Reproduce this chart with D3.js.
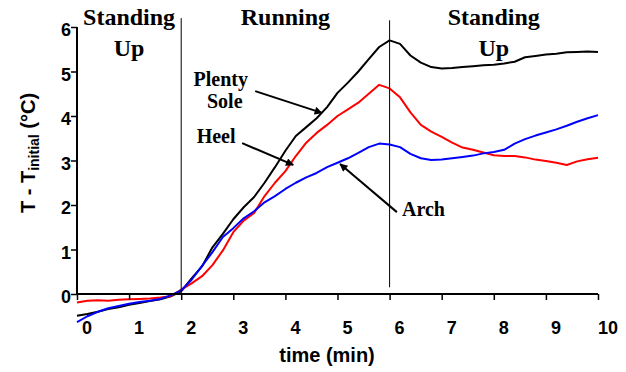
<!DOCTYPE html>
<html>
<head>
<meta charset="utf-8">
<script src="https://cdn.jsdelivr.net/npm/d3@7"></script>
<style>
body { margin: 0; background: #fff; }
.ticklabel { font-family: "Liberation Sans", Arial, sans-serif; font-weight: bold; font-size: 18px; }
.axistitle { font-family: "Liberation Sans", Arial, sans-serif; font-weight: bold; font-size: 20px; }
.phase { font-family: "Liberation Serif", "Times New Roman", serif; font-weight: bold; font-size: 24px; }
.note { font-family: "Liberation Serif", "Times New Roman", serif; font-weight: bold; font-size: 20px; }
</style>
</head>
<body>
<div id="vis"></div>
<script>
var w = 626;
var h = 372;

// time (min)
var time = [0, 0.2, 0.4, 0.6, 0.8, 1, 1.2, 1.4, 1.6, 1.8,
	2, 2.2, 2.4, 2.6, 2.8, 3, 3.2, 3.4, 3.6, 3.8,
	4, 4.2, 4.4, 4.6, 4.8, 5, 5.2, 5.4, 5.6, 5.8,
	6, 6.2, 6.4, 6.6, 6.8, 7, 7.2, 7.4, 7.6, 7.8,
	8, 8.2, 8.4, 8.6, 8.8, 9, 9.2, 9.4, 9.6, 9.8, 10];

// T - Tinitial per sensor
var plentySole = [-0.49, -0.45, -0.40, -0.34, -0.30, -0.24, -0.20, -0.16, -0.12, -0.05,
	0.06, 0.35, 0.62, 1.05, 1.35, 1.68, 1.95, 2.18, 2.50, 2.85,
	3.22, 3.55, 3.75, 3.95, 4.20, 4.52, 4.75, 5.00, 5.28, 5.55,
	5.70, 5.62, 5.36, 5.20, 5.10, 5.07, 5.08, 5.10, 5.12, 5.14,
	5.15, 5.18, 5.22, 5.32, 5.35, 5.38, 5.40, 5.43, 5.44, 5.45, 5.44];
var heel = [-0.19, -0.15, -0.14, -0.15, -0.13, -0.12, -0.11, -0.10, -0.08, -0.05,
	0.10, 0.24, 0.40, 0.65, 0.98, 1.39, 1.65, 1.82, 2.20, 2.50,
	2.76, 3.10, 3.40, 3.62, 3.80, 4.00, 4.15, 4.30, 4.50, 4.70,
	4.62, 4.42, 4.08, 3.80, 3.65, 3.53, 3.40, 3.29, 3.24, 3.18,
	3.12, 3.10, 3.10, 3.07, 3.02, 2.99, 2.95, 2.90, 2.98, 3.03, 3.06];
var arch = [-0.63, -0.50, -0.40, -0.32, -0.27, -0.22, -0.18, -0.15, -0.11, -0.03,
	0.08, 0.32, 0.63, 0.94, 1.28, 1.48, 1.70, 1.86, 2.06, 2.20,
	2.36, 2.50, 2.62, 2.72, 2.85, 2.95, 3.05, 3.17, 3.30, 3.38,
	3.36, 3.30, 3.15, 3.05, 3.01, 3.02, 3.05, 3.08, 3.11, 3.16,
	3.19, 3.24, 3.38, 3.48, 3.56, 3.63, 3.70, 3.78, 3.87, 3.95, 4.02];

var xticks = [0, 1, 2, 3, 4, 5, 6, 7, 8, 9, 10];
var yticks = [0, 1, 2, 3, 4, 5, 6];

// fases: start, eind, tekst
var phaseStart = [0, 2, 6];
var phaseEnd = [2, 6, 10];
var phaseLines = [["Standing", "Up"], ["Running"], ["Standing", "Up"]];

// scheidingslijnen
var dividerT = [2, 6];
var dividerTop = [6.2, 6.15];
var dividerBottom = [0, 0.15];

var svg = d3.select("#vis")
	.append("svg")
	.attr("width", w)
	.attr("height", h);

var x = d3.scaleLinear().domain([0, 10]).range([77, 598]);
var y = d3.scaleLinear().domain([0, 6]).range([294, 27]);

var series = [
	{name: "Plenty Sole", values: plentySole, color: "#000000"},
	{name: "Heel", values: heel, color: "#ff0000"},
	{name: "Arch", values: arch, color: "#0000ff"}
];

var line = d3.line()
	.x(function(d, i) { return x(time[i]); })
	.y(function(d) { return y(d); });

//curves
svg.selectAll(".curve")
	.data(series)
	.enter()
	.append("path")
	.attr("class", "curve")
	.attr("d", function(d) { return line(d.values); })
	.attr("fill", "none")
	.attr("stroke", function(d) { return d.color; })
	.attr("stroke-width", 2)
	.attr("stroke-linejoin", "round");

//verticale lijnen
dividerT.forEach(function(t, i) {
	svg.append("line")
		.attr("x1", x(t))
		.attr("x2", x(t))
		.attr("y1", y(dividerTop[i]))
		.attr("y2", y(dividerBottom[i]))
		.attr("stroke", "black")
		.attr("stroke-width", 1);
});

//x-as
var xAxis = svg.append("g")
	.attr("transform", "translate(0," + y(0) + ")")
	.call(d3.axisBottom(x).tickValues(xticks).tickSize(6).tickFormat(""));
xAxis.select(".domain").attr("stroke-width", 2).attr("d", "M" + x(0) + ",0H" + x(10));
xAxis.selectAll(".tick line").attr("stroke-width", 1.5);

svg.selectAll(".xlabel")
	.data(xticks)
	.enter()
	.append("text")
	.attr("class", "ticklabel")
	.attr("x", function(d) { return x(d) + 10; })
	.attr("y", 334)
	.attr("text-anchor", "middle")
	.text(function(d) { return d; });

//y-as
var yAxis = svg.append("g")
	.attr("transform", "translate(" + x(0) + ",0)")
	.call(d3.axisLeft(y).tickValues(yticks).tickSize(6).tickFormat(""));
yAxis.select(".domain").attr("stroke-width", 2).attr("d", "M0," + y(0) + "V" + y(6));
yAxis.selectAll(".tick line").attr("stroke-width", 1.5);

svg.selectAll(".ylabel")
	.data(yticks)
	.enter()
	.append("text")
	.attr("class", "ticklabel")
	.attr("x", x(0) - 6)
	.attr("y", function(d) { return y(d) + 9; })
	.attr("text-anchor", "end")
	.text(function(d) { return d; });

//as titels
svg.append("text")
	.attr("class", "axistitle")
	.attr("x", 327)
	.attr("y", 362)
	.attr("text-anchor", "middle")
	.text("time (min)");

var ytitle = svg.append("text")
	.attr("class", "axistitle")
	.attr("transform", "translate(35,153) rotate(-90)")
	.attr("text-anchor", "middle");
ytitle.append("tspan").text("T - T");
ytitle.append("tspan").attr("font-size", "14px").attr("dy", 4).text("initial");
ytitle.append("tspan").attr("dy", -4).text(" (\u00B0C)");

//fase labels
phaseLines.forEach(function(lines, i) {
	var cx = x((phaseStart[i] + phaseEnd[i]) / 2);
	lines.forEach(function(txt, j) {
		svg.append("text")
			.attr("class", "phase")
			.attr("x", cx)
			.attr("y", 25 + j * 31)
			.attr("text-anchor", "middle")
			.text(txt);
	});
});

//pijlen
svg.append("defs").append("marker")
	.attr("id", "head")
	.attr("markerUnits", "userSpaceOnUse")
	.attr("viewBox", "0 0 10 10")
	.attr("refX", 9)
	.attr("refY", 5)
	.attr("markerWidth", 10)
	.attr("markerHeight", 8)
	.attr("orient", "auto")
	.append("path")
	.attr("d", "M0,0L10,5L0,10z")
	.attr("fill", "black");

var noteText = [["Plenty", "Sole"], ["Heel"], ["Arch"]];
var noteT = [2.76, 2.67, 6.65];
var noteV = [4.67, 3.39, 1.75];
var tailT = [3.42, 3.17, 6.14];
var tailV = [4.56, 3.39, 1.84];
var headT = [4.70, 4.15, 5.05];
var headV = [4.07, 2.90, 2.92];

noteText.forEach(function(lines, i) {
	lines.forEach(function(txt, j) {
		svg.append("text")
			.attr("class", "note")
			.attr("x", x(noteT[i]) + (j * 4))
			.attr("y", y(noteV[i]) + j * 22)
			.attr("text-anchor", "middle")
			.text(txt);
	});
	svg.append("line")
		.attr("x1", x(tailT[i]))
		.attr("y1", y(tailV[i]))
		.attr("x2", x(headT[i]))
		.attr("y2", y(headV[i]))
		.attr("stroke", "black")
		.attr("stroke-width", 2)
		.attr("marker-end", "url(#head)");
});
</script>
</body>
</html>
